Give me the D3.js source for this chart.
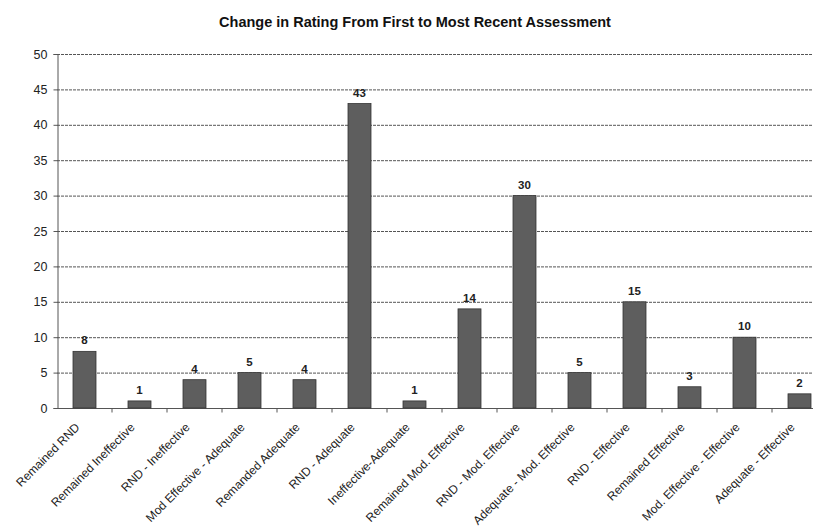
<!DOCTYPE html>
<html>
<head>
<meta charset="utf-8">
<script src="https://cdn.jsdelivr.net/npm/d3@7"></script>
<style>
  body { margin: 0; background: #fff; overflow: hidden; }
  svg { display: block; font-family: "Liberation Sans", Arial, sans-serif; }
</style>
</head>
<body>
<svg id="chart" width="813" height="529"></svg>
<script>
// Rating transitions between first and latest assessment
const categories = [
  "Remained RND", "Remained Ineffective", "RND - Ineffective",
  "Mod Effective - Adequate", "Remanded Adequate", "RND - Adequate",
  "Ineffective-Adequate", "Remained Mod. Effective", "RND - Mod. Effective",
  "Adequate - Mod. Effective", "RND - Effective", "Remained Effective",
  "Mod. Effective - Effective", "Adequate - Effective"
];
const counts = [8, 1, 4, 5, 4, 43, 1, 14, 30, 5, 15, 3, 10, 2];
const yTicks = [0, 5, 10, 15, 20, 25, 30, 35, 40, 45, 50];
const title = "Change in Rating From First to Most Recent Assessment";

const W = 813, H = 529;
const svg = d3.select("#chart");

// Plot area runs slightly past the right edge of the canvas
const x0 = 57, x1 = 827;
const y0 = 408, y1 = 54;

const x = d3.scaleBand().domain(categories).range([x0, x1]).paddingInner(0.582).paddingOuter(0.291);
const xOuter = d3.scaleBand().domain(categories).range([x0, x1]);
const y = d3.scaleLinear().domain([0, 50]).range([y0, y1]);

// Title
svg.append("text")
  .attr("x", 415).attr("y", 27)
  .attr("text-anchor", "middle")
  .attr("font-weight", "bold").attr("font-size", 14.5)
  .attr("fill", "#111")
  .text(title);

// Horizontal grid lines
svg.append("g").selectAll("line").data(yTicks.filter(d => d > 0)).join("line")
  .attr("x1", x0).attr("x2", x1)
  .attr("y1", d => y(d) + 0.5).attr("y2", d => y(d) + 0.5)
  .attr("stroke", "#555").attr("stroke-width", 1)
  .attr("stroke-dasharray", "3,1");

// Y axis
const yAxis = svg.append("g")
  .attr("transform", `translate(${x0 + 0.5},0)`)
  .call(d3.axisLeft(y).tickValues(yTicks).tickSize(4).tickPadding(6));
yAxis.select(".domain").attr("stroke", "#555");
yAxis.selectAll(".tick line").attr("stroke", "#555");
yAxis.selectAll("text").attr("font-size", 12.5).attr("fill", "#222")
  .attr("font-family", "'Liberation Sans', Arial, sans-serif");

// X axis with ticks on category boundaries
const xAxisG = svg.append("g").attr("transform", `translate(0,${y0 + 0.5})`);
xAxisG.append("line").attr("x1", x0).attr("x2", x1).attr("stroke", "#555");
xAxisG.selectAll("line.tk").data(categories).join("line").attr("class", "tk")
  .attr("x1", d => xOuter(d) + xOuter.bandwidth()).attr("x2", d => xOuter(d) + xOuter.bandwidth())
  .attr("y1", 0).attr("y2", 4).attr("stroke", "#555");

// Bars
svg.append("g").selectAll("rect").data(counts).join("rect")
  .attr("x", (d, i) => x(categories[i]))
  .attr("y", d => y(d))
  .attr("width", x.bandwidth())
  .attr("height", d => y0 - y(d))
  .attr("fill", "#5e5e5e")
  .attr("stroke", "#333").attr("stroke-width", 0.8);

// Value labels
svg.append("g").selectAll("text").data(counts).join("text")
  .attr("x", (d, i) => x(categories[i]) + x.bandwidth() / 2)
  .attr("y", d => y(d) - 7)
  .attr("text-anchor", "middle")
  .attr("font-size", 11.5).attr("font-weight", "bold").attr("fill", "#222")
  .text(d => d);

// Category labels, rotated
svg.append("g").selectAll("text").data(categories).join("text")
  .attr("transform", d => `translate(${xOuter(d) + xOuter.bandwidth() / 2 - 4},${y0 + 20}) rotate(-45)`)
  .attr("text-anchor", "end")
  .attr("font-size", 12).attr("fill", "#222")
  .text(d => d);
</script>
</body>
</html>
